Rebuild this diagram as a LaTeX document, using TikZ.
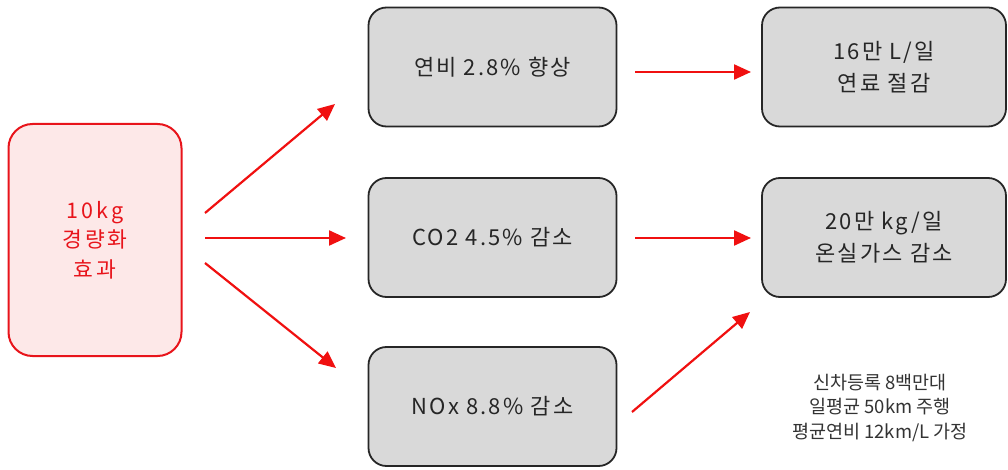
\documentclass[tikz,border=0pt]{standalone}
\usepackage{fontspec}
\setmainfont{Noto Sans CJK KR}
\newfontfamily\boxfont[LetterSpace=10]{Noto Sans CJK KR}
\newfontfamily\srcfont[LetterSpace=14]{Noto Sans CJK KR}
\usetikzlibrary{arrows.meta}
\definecolor{redline}{HTML}{E8141B}
\definecolor{pinkfill}{HTML}{FDE8E8}
\definecolor{grayfill}{HTML}{D9D9D9}
\definecolor{arrowred}{HTML}{F01010}
\tikzset{
  graybox/.style={draw=black!85, line width=1.8pt, fill=grayfill, rounded corners=18pt,
    minimum width=248pt, minimum height=119pt, align=center, font=\boxfont\fontsize{22pt}{32pt}\selectfont, text=black!85},
  redbox/.style={draw=redline, line width=2pt, fill=pinkfill, rounded corners=24pt,
    minimum width=173pt, minimum height=232pt, align=center, font=\srcfont\fontsize{21.5pt}{29.5pt}\selectfont, text=redline},
  arr/.style={draw=arrowred, line width=2.2pt, -{Triangle[length=17pt,width=15pt]}},
  note/.style={align=center, font=\fontsize{18.5pt}{24.5pt}\selectfont, text=black!80}
}
\begin{document}
\begin{tikzpicture}[x=1pt,y=-1pt]
\useasboundingbox (0,0) rectangle (1008,470);
\node[redbox] (src) at (95,240) {10kg\\경량화\\효과};
\node[graybox] (m1) at (492.5,67) {연비 2.8\% 향상};
\node[graybox] (m2) at (492.5,237.5) {CO2 4.5\% 감소};
\node[graybox] (m3) at (492.5,406.5) {NOx 8.8\% 감소};
\node[graybox, minimum width=244pt] (r1) at (884,67) {16만 L/일\\연료 절감};
\node[graybox, minimum width=244pt] (r2) at (884,237.5) {20만 kg/일\\온실가스 감소};
\node[note] (n) at (880,408) {신차등록 8백만대\\일평균 50km 주행\\평균연비 12km/L 가정};
\coordinate (a1s) at (205,213); \coordinate (a1e) at (335,104);
\coordinate (a2s) at (205,238); \coordinate (a2e) at (346,238);
\coordinate (a3s) at (205,263); \coordinate (a3e) at (336,368);
\coordinate (b1s) at (635,72); \coordinate (b1e) at (751,72);
\coordinate (b2s) at (635,238); \coordinate (b2e) at (751,238);
\coordinate (b3s) at (632,412); \coordinate (b3e) at (750,312);
\draw[arr] (a1s) -- (a1e);
\draw[arr] (a2s) -- (a2e);
\draw[arr] (a3s) -- (a3e);
\draw[arr] (b1s) -- (b1e);
\draw[arr] (b2s) -- (b2e);
\draw[arr] (b3s) -- (b3e);
\end{tikzpicture}
\end{document}
